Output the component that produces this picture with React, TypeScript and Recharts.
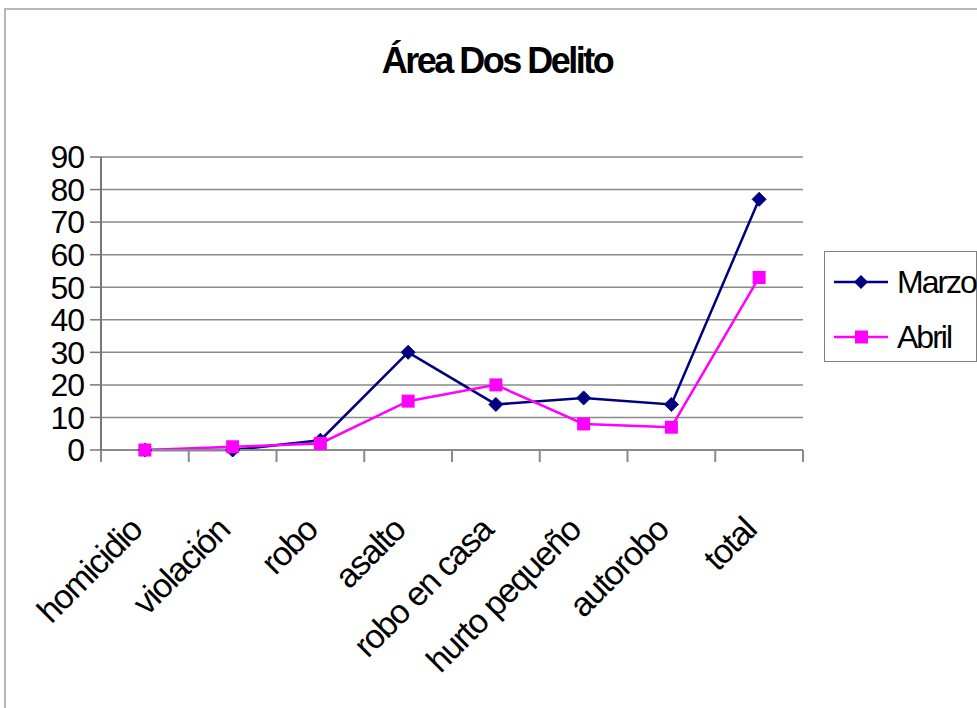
import React from "react";
import { LineChart, Line, XAxis, YAxis, CartesianGrid } from "recharts";

const categories = [
  "homicidio",
  "violación",
  "robo",
  "asalto",
  "robo en casa",
  "hurto pequeño",
  "autorobo",
  "total",
];
const marzo = [0, 0, 3, 30, 14, 16, 14, 77];
const abril = [0, 1, 2, 15, 20, 8, 7, 53];
const yTicks = [0, 10, 20, 30, 40, 50, 60, 70, 80, 90];

const data = categories.map((name, i) => ({ name, marzo: marzo[i], abril: abril[i] }));

const W = 977;
const H = 708;
const margin = { top: 157, right: 174, bottom: 0, left: 0 };
const yAxisW = 101;
const xAxisH = 258;
const plotW = W - margin.left - margin.right - yAxisW;
const half = plotW / (categories.length * 2);

const FONT = "'Liberation Sans', Arial, sans-serif";
const NAVY = "#000080";
const PINK = "#ff00ff";
const GRID = "#8a8a8a";

function CategoryTick(props: any) {
  const { x, y, payload } = props;
  const last = payload.value === categories[categories.length - 1];
  const tx = x - 1;
  const ty = y + 82;
  return (
    <g>
      <line x1={x - half} x2={x - half} y1={y} y2={y + 12} stroke={GRID} strokeWidth={2} />
      {last && <line x1={x + half} x2={x + half} y1={y} y2={y + 12} stroke={GRID} strokeWidth={2} />}
      <text
        x={tx}
        y={ty}
        transform={`rotate(-45, ${tx}, ${ty})`}
        textAnchor="end"
        fontFamily={FONT}
        fontSize={34}
        letterSpacing={-1.4}
        fill="#000"
      >
        {payload.value}
      </text>
    </g>
  );
}

function Diamond(props: any) {
  const { cx, cy, index } = props;
  if (cx == null || cy == null) return <g key={`m-${index}`} />;
  const r = 7;
  return (
    <polygon
      key={`m-${index}`}
      points={`${cx},${cy - r} ${cx + r},${cy} ${cx},${cy + r} ${cx - r},${cy}`}
      fill={NAVY}
      stroke={NAVY}
    />
  );
}

function Square(props: any) {
  const { cx, cy, index } = props;
  if (cx == null || cy == null) return <g key={`a-${index}`} />;
  const s = 13;
  return <rect key={`a-${index}`} x={cx - s / 2} y={cy - s / 2} width={s} height={s} fill={PINK} />;
}

function LegendRow({ color, label, square, top }: { color: string; label: string; square: boolean; top: number }) {
  return (
    <div style={{ position: "absolute", left: 0, top, height: 30, width: 160 }}>
      <svg width={70} height={30} style={{ position: "absolute", left: 0, top: 0 }}>
        <line x1={9} x2={63} y1={15} y2={15} stroke={color} strokeWidth={2.5} />
        {square ? (
          <rect x={30} y={8.5} width={13} height={13} fill={color} />
        ) : (
          <polygon points="36,8 43,15 36,22 29,15" fill={color} />
        )}
      </svg>
      <span
        style={{
          position: "absolute",
          left: 72,
          top: -1,
          fontFamily: FONT,
          fontSize: 32,
          letterSpacing: -2,
          lineHeight: "32px",
          color: "#000",
        }}
      >
        {label}
      </span>
    </div>
  );
}

export default function App() {
  return (
    <div
      style={{
        position: "absolute",
        left: 0,
        top: 0,
        width: W,
        height: H,
        overflow: "hidden",
        background: "#fff",
      }}
    >
      <div
        style={{
          position: "absolute",
          left: 4,
          top: 8,
          width: 1100,
          height: 900,
          borderLeft: "2px solid #b8b8b8",
          borderTop: "2px solid #b8b8b8",
        }}
      />
      <div
        style={{
          position: "absolute",
          left: 297,
          top: 43,
          width: 400,
          textAlign: "center",
          fontFamily: FONT,
          fontWeight: "bold",
          fontSize: 36,
          letterSpacing: -2.5,
          lineHeight: "36px",
        }}
      >
        Área Dos Delito
      </div>
      <div style={{ position: "absolute", left: 0, top: 0 }}>
        <LineChart width={W} height={H} data={data} margin={margin}>
          <CartesianGrid yAxisId="left" vertical={false} stroke={GRID} strokeWidth={1.5} />
          <XAxis
            dataKey="name"
            height={xAxisH}
            interval={0}
            padding={{ left: half, right: half }}
            axisLine={{ stroke: GRID, strokeWidth: 2 }}
            tickLine={false}
            tickSize={0}
            tickMargin={0}
            tick={<CategoryTick />}
          />
          <YAxis
            yAxisId="left"
            width={yAxisW}
            domain={[0, 90]}
            ticks={yTicks}
            interval={0}
            axisLine={{ stroke: "#777", strokeWidth: 2 }}
            tickLine={{ stroke: "#777", strokeWidth: 1.5 }}
            tickSize={11}
            tickMargin={6}
            tick={{ fill: "#000", fontSize: 32, fontFamily: FONT, letterSpacing: -1 }}
          />
          <YAxis
            yAxisId="right"
            orientation="right"
            width={0}
            domain={[0, 90]}
            tick={false}
            tickLine={false}
            axisLine={{ stroke: GRID, strokeWidth: 2 }}
          />
          <Line
            yAxisId="left"
            type="linear"
            dataKey="marzo"
            stroke={NAVY}
            strokeWidth={2.5}
            dot={(p: any) => <Diamond {...p} />}
            activeDot={false}
            isAnimationActive={false}
          />
          <Line
            yAxisId="left"
            type="linear"
            dataKey="abril"
            stroke={PINK}
            strokeWidth={2.5}
            dot={(p: any) => <Square {...p} />}
            activeDot={false}
            isAnimationActive={false}
          />
        </LineChart>
      </div>
      <div
        style={{
          position: "absolute",
          left: 824,
          top: 251,
          width: 151,
          height: 109,
          border: "1.5px solid #808080",
        }}
      >
        <LegendRow color={NAVY} label="Marzo" square={false} top={15} />
        <LegendRow color={PINK} label="Abril" square={true} top={70} />
      </div>
    </div>
  );
}
